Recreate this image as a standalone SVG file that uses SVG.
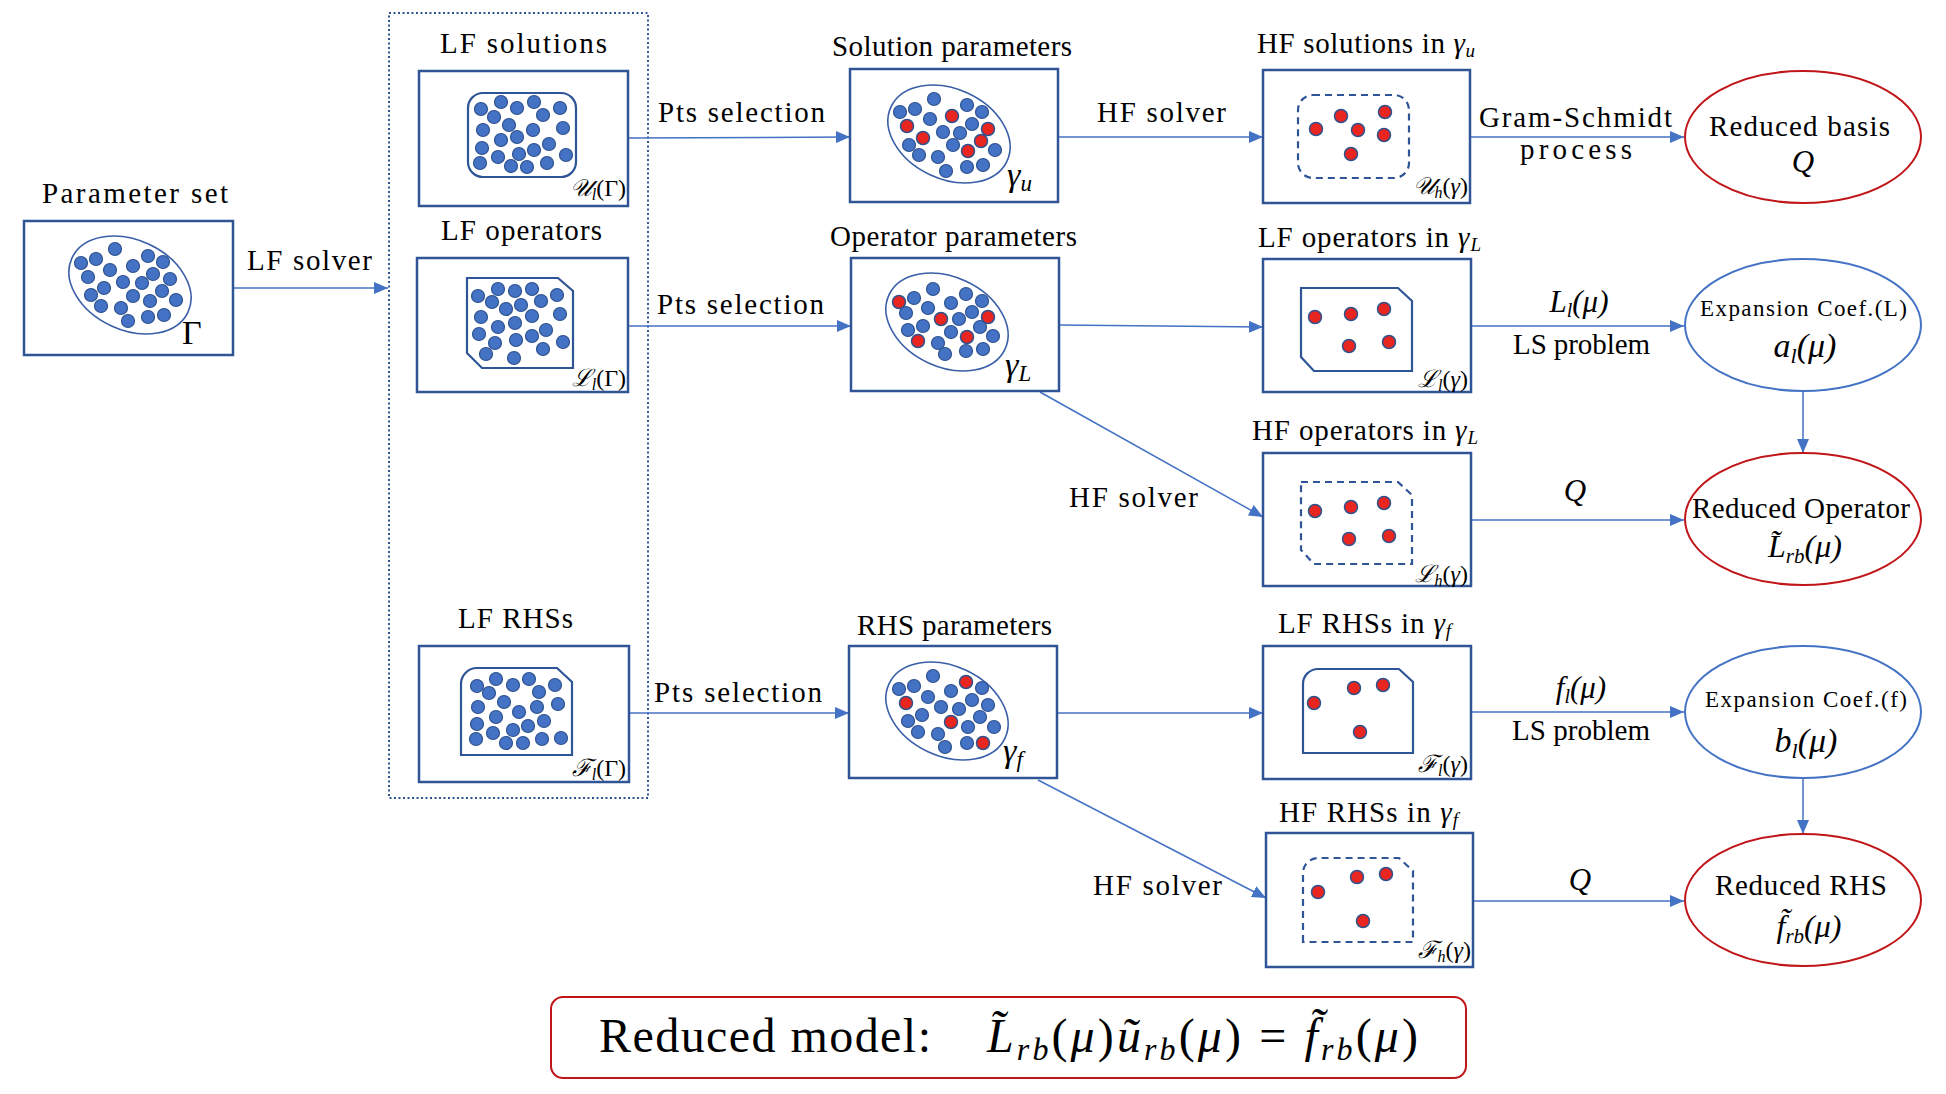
<svg xmlns="http://www.w3.org/2000/svg" xmlns:xlink="http://www.w3.org/1999/xlink" width="1946" height="1094" viewBox="0 0 1946 1094">
<style>
text{font-family:"Liberation Serif","DejaVu Serif",serif;fill:#000}
.lbl{font-size:29px}
.sm{font-size:23px}
.ml{font-size:24px}
.it{font-style:italic}
.box{fill:#fff;stroke:#2F5597;stroke-width:2.5}
.inner{fill:none;stroke:#2F5597;stroke-width:2.2}
.dash{stroke-dasharray:7 5}
.pell{fill:none;stroke:#3A5FA8;stroke-width:1.6}
.conn line{stroke:#4472C4;stroke-width:1.5;marker-end:url(#ah)}
.rell{fill:#fff;stroke:#C0161A;stroke-width:2}
.bell{fill:#fff;stroke:#4472C4;stroke-width:2}
.cont{fill:none;stroke:#2F5597;stroke-width:2;stroke-dasharray:2 2.5}
</style>
<defs>
<marker id="ah" markerWidth="14" markerHeight="12" refX="14" refY="6" orient="auto" markerUnits="userSpaceOnUse">
<path d="M0,0 L14,6 L0,12 Z" fill="#4472C4"/>
</marker>
<circle id="b" r="6.5" fill="#4472C4" stroke="#2F528F" stroke-width="1.2"/>
<circle id="r" r="6.5" fill="#E8251F" stroke="#2F528F" stroke-width="1.5"/>
</defs>
<rect width="1946" height="1094" fill="#fff"/>

<rect id="lf-container" class="cont" x="389" y="13" width="259" height="785"/>

<g id="conn" class="conn">
<line x1="233" y1="288" x2="388" y2="288"/>
<line x1="628" y1="138" x2="850" y2="137"/>
<line x1="628" y1="326" x2="851" y2="326"/>
<line x1="629" y1="713" x2="849" y2="713"/>
<line x1="1058" y1="137" x2="1263" y2="137"/>
<line x1="1059" y1="325" x2="1263" y2="327"/>
<line x1="1040" y1="392" x2="1263" y2="517"/>
<line x1="1057" y1="713" x2="1263" y2="713"/>
<line x1="1038" y1="780" x2="1266" y2="898"/>
<line x1="1470" y1="137" x2="1684" y2="137"/>
<line x1="1471" y1="326" x2="1684" y2="326"/>
<line x1="1471" y1="520" x2="1684" y2="520"/>
<line x1="1471" y1="712" x2="1684" y2="712"/>
<line x1="1473" y1="901" x2="1684" y2="901"/>
<line x1="1803" y1="391" x2="1803" y2="453"/>
<line x1="1803" y1="778" x2="1803" y2="834"/>
</g>

<g id="edge-labels">
<text class="lbl" x="247" y="270" textLength="125">LF solver</text>
<text class="lbl" x="658" y="122" textLength="167">Pts selection</text>
<text class="lbl" x="657" y="314" textLength="167">Pts selection</text>
<text class="lbl" x="654" y="702" textLength="168">Pts selection</text>
<text class="lbl" x="1097" y="122" textLength="129">HF solver</text>
<text class="lbl" x="1069" y="507" textLength="129">HF solver</text>
<text class="lbl" x="1093" y="895" textLength="129">HF solver</text>
<text class="lbl" x="1479" y="127" textLength="193">Gram-Schmidt</text>
<text class="lbl" x="1520" y="159" textLength="112">process</text>
<text class="it" x="1579" y="312" text-anchor="middle" font-size="31">L<tspan dy="5" font-size="20">l</tspan><tspan dy="-5">(μ)</tspan></text>
<text class="lbl" x="1513" y="354" textLength="137">LS problem</text>
<text class="it" x="1575" y="501" text-anchor="middle" font-size="31">Q</text>
<text class="it" x="1581" y="698" text-anchor="middle" font-size="31">f<tspan dy="5" font-size="20">l</tspan><tspan dy="-5">(μ)</tspan></text>
<text class="lbl" x="1512" y="740" textLength="138">LS problem</text>
<text class="it" x="1580" y="890" text-anchor="middle" font-size="31">Q</text>
</g>

<g id="param-set">
<text class="lbl" x="42" y="203" textLength="186">Parameter set</text>
<rect class="box" x="24" y="221" width="209" height="134"/>
<ellipse class="pell" cx="130" cy="285" rx="64" ry="45" transform="rotate(25 130 285)"/>
<use href="#b" x="115" y="249"/><use href="#b" x="81" y="263"/><use href="#b" x="96" y="259"/><use href="#b" x="148" y="256"/><use href="#b" x="163" y="262"/><use href="#b" x="133" y="266"/><use href="#b" x="110" y="270"/><use href="#b" x="88" y="277"/><use href="#b" x="153" y="274"/><use href="#b" x="170" y="279"/><use href="#b" x="123" y="282"/><use href="#b" x="142" y="283"/><use href="#b" x="104" y="288"/><use href="#b" x="162" y="291"/><use href="#b" x="91" y="295"/><use href="#b" x="133" y="296"/><use href="#b" x="150" y="301"/><use href="#b" x="176" y="300"/><use href="#b" x="101" y="306"/><use href="#b" x="121" y="308"/><use href="#b" x="128" y="321"/><use href="#b" x="148" y="317"/><use href="#b" x="164" y="315"/>
<text x="182" y="344" font-size="34">Γ</text>
</g>

<g id="lf-solutions">
<text class="lbl" x="440" y="53" textLength="167">LF solutions</text>
<rect class="box" x="419" y="71" width="209" height="135"/>
<rect class="inner" x="468" y="93" width="108" height="84" rx="15"/>
<use href="#b" x="481" y="109"/><use href="#b" x="501" y="102"/><use href="#b" x="494" y="117"/><use href="#b" x="517" y="108"/><use href="#b" x="534" y="102"/><use href="#b" x="543" y="115"/><use href="#b" x="560" y="108"/><use href="#b" x="483" y="130"/><use href="#b" x="509" y="125"/><use href="#b" x="533" y="130"/><use href="#b" x="563" y="128"/><use href="#b" x="501" y="140"/><use href="#b" x="517" y="137"/><use href="#b" x="482" y="148"/><use href="#b" x="498" y="157"/><use href="#b" x="519" y="154"/><use href="#b" x="534" y="150"/><use href="#b" x="549" y="144"/><use href="#b" x="566" y="155"/><use href="#b" x="480" y="163"/><use href="#b" x="511" y="166"/><use href="#b" x="527" y="167"/><use href="#b" x="547" y="163"/>
<text class="ml" x="626" y="196" text-anchor="end"><tspan class="it">𝒰</tspan><tspan class="it" dy="4" font-size="16">l</tspan><tspan dy="-4">(Γ)</tspan></text>
</g>

<g id="lf-operators">
<text class="lbl" x="441" y="240" textLength="161">LF operators</text>
<rect class="box" x="417" y="258" width="211" height="134"/>
<path class="inner" d="M467,278 L558,278 L573,291 L573,368 L482,368 L467,353 Z"/>
<use href="#b" x="478" y="296"/><use href="#b" x="498" y="289"/><use href="#b" x="515" y="291"/><use href="#b" x="532" y="289"/><use href="#b" x="557" y="295"/><use href="#b" x="492" y="302"/><use href="#b" x="521" y="305"/><use href="#b" x="541" y="301"/><use href="#b" x="506" y="309"/><use href="#b" x="481" y="317"/><use href="#b" x="532" y="316"/><use href="#b" x="560" y="314"/><use href="#b" x="515" y="323"/><use href="#b" x="498" y="327"/><use href="#b" x="479" y="334"/><use href="#b" x="546" y="330"/><use href="#b" x="532" y="336"/><use href="#b" x="516" y="340"/><use href="#b" x="495" y="343"/><use href="#b" x="563" y="342"/><use href="#b" x="486" y="354"/><use href="#b" x="543" y="349"/><use href="#b" x="514" y="358"/>
<text class="ml" x="626" y="386" text-anchor="end"><tspan class="it">ℒ</tspan><tspan class="it" dy="4" font-size="16">l</tspan><tspan dy="-4">(Γ)</tspan></text>
</g>

<g id="lf-rhss">
<text class="lbl" x="458" y="628" textLength="115">LF RHSs</text>
<rect class="box" x="419" y="646" width="210" height="136"/>
<path class="inner" d="M461,755 L461,684 A16,16 0 0 1 477,668 L557,668 L572,682 L572,755 Z"/>
<use href="#b" x="477" y="686"/><use href="#b" x="496" y="679"/><use href="#b" x="513" y="685"/><use href="#b" x="529" y="679"/><use href="#b" x="555" y="685"/><use href="#b" x="489" y="693"/><use href="#b" x="539" y="692"/><use href="#b" x="504" y="702"/><use href="#b" x="478" y="707"/><use href="#b" x="519" y="712"/><use href="#b" x="537" y="707"/><use href="#b" x="558" y="704"/><use href="#b" x="496" y="717"/><use href="#b" x="544" y="721"/><use href="#b" x="477" y="724"/><use href="#b" x="528" y="726"/><use href="#b" x="513" y="730"/><use href="#b" x="493" y="733"/><use href="#b" x="476" y="739"/><use href="#b" x="506" y="743"/><use href="#b" x="523" y="743"/><use href="#b" x="542" y="739"/><use href="#b" x="561" y="738"/>
<text class="ml" x="626" y="776" text-anchor="end"><tspan class="it">ℱ</tspan><tspan class="it" dy="4" font-size="16">l</tspan><tspan dy="-4">(Γ)</tspan></text>
</g>

<g id="solution-params">
<text class="lbl" x="832" y="56" textLength="240">Solution parameters</text>
<rect class="box" x="850" y="69" width="208" height="133"/>
<ellipse class="pell" cx="949" cy="134" rx="64" ry="45" transform="rotate(25 949 134)"/>
<use href="#b" x="934" y="99"/><use href="#b" x="900" y="112"/><use href="#b" x="915" y="109"/><use href="#b" x="967" y="105"/><use href="#b" x="982" y="112"/><use href="#b" x="930" y="119"/><use href="#b" x="972" y="124"/><use href="#b" x="943" y="132"/><use href="#b" x="960" y="133"/><use href="#b" x="909" y="145"/><use href="#b" x="953" y="145"/><use href="#b" x="919" y="155"/><use href="#b" x="938" y="157"/><use href="#b" x="995" y="150"/><use href="#b" x="946" y="171"/><use href="#b" x="967" y="167"/><use href="#b" x="983" y="165"/>
<use href="#r" x="952" y="116"/><use href="#r" x="907" y="126"/><use href="#r" x="923" y="138"/><use href="#r" x="988" y="129"/><use href="#r" x="981" y="141"/><use href="#r" x="968" y="151"/>
<text class="it" x="1007" y="186" font-size="34">γ<tspan dy="5" font-size="23">u</tspan></text>
</g>

<g id="operator-params">
<text class="lbl" x="830" y="246" textLength="247">Operator parameters</text>
<rect class="box" x="851" y="258" width="208" height="133"/>
<ellipse class="pell" cx="947" cy="322" rx="64" ry="45" transform="rotate(25 947 322)"/>
<use href="#b" x="933" y="289"/><use href="#b" x="914" y="298"/><use href="#b" x="966" y="294"/><use href="#b" x="982" y="301"/><use href="#b" x="951" y="303"/><use href="#b" x="906" y="313"/><use href="#b" x="928" y="308"/><use href="#b" x="972" y="312"/><use href="#b" x="959" y="319"/><use href="#b" x="923" y="326"/><use href="#b" x="908" y="330"/><use href="#b" x="951" y="332"/><use href="#b" x="980" y="327"/><use href="#b" x="993" y="336"/><use href="#b" x="938" y="343"/><use href="#b" x="945" y="354"/><use href="#b" x="966" y="351"/><use href="#b" x="983" y="349"/>
<use href="#r" x="899" y="302"/><use href="#r" x="941" y="319"/><use href="#r" x="988" y="317"/><use href="#r" x="918" y="341"/><use href="#r" x="967" y="337"/>
<text class="it" x="1005" y="376" font-size="34">γ<tspan dy="5" font-size="23">L</tspan></text>
</g>

<g id="rhs-params">
<text class="lbl" x="857" y="635" textLength="195">RHS parameters</text>
<rect class="box" x="849" y="646" width="208" height="132"/>
<ellipse class="pell" cx="947" cy="711" rx="64" ry="45" transform="rotate(25 947 711)"/>
<use href="#b" x="933" y="676"/><use href="#b" x="899" y="689"/><use href="#b" x="914" y="686"/><use href="#b" x="982" y="688"/><use href="#b" x="951" y="691"/><use href="#b" x="928" y="697"/><use href="#b" x="972" y="700"/><use href="#b" x="988" y="705"/><use href="#b" x="941" y="707"/><use href="#b" x="959" y="709"/><use href="#b" x="922" y="715"/><use href="#b" x="908" y="721"/><use href="#b" x="980" y="717"/><use href="#b" x="968" y="727"/><use href="#b" x="994" y="727"/><use href="#b" x="918" y="732"/><use href="#b" x="938" y="734"/><use href="#b" x="945" y="747"/><use href="#b" x="967" y="743"/>
<use href="#r" x="966" y="682"/><use href="#r" x="906" y="703"/><use href="#r" x="951" y="722"/><use href="#r" x="983" y="743"/>
<text class="it" x="1003" y="762" font-size="34">γ<tspan dy="5" font-size="23">f</tspan></text>
</g>

<g id="hf-solutions">
<text class="lbl" x="1257" y="53" textLength="218">HF solutions in <tspan class="it">γ</tspan><tspan class="it" dy="4" font-size="19">u</tspan></text>
<rect class="box" x="1263" y="70" width="207" height="133"/>
<rect class="inner dash" x="1298" y="95" width="111" height="83" rx="15"/>
<use href="#r" x="1316" y="129"/><use href="#r" x="1341" y="116"/><use href="#r" x="1358" y="130"/><use href="#r" x="1385" y="112"/><use href="#r" x="1384" y="135"/><use href="#r" x="1351" y="154"/>
<text class="ml" x="1468" y="194" text-anchor="end"><tspan class="it">𝒰</tspan><tspan class="it" dy="4" font-size="16">h</tspan><tspan dy="-4">(</tspan><tspan class="it">γ</tspan>)</text>
</g>

<g id="lf-ops-gamma">
<text class="lbl" x="1258" y="247" textLength="223">LF operators in <tspan class="it">γ</tspan><tspan class="it" dy="4" font-size="19">L</tspan></text>
<rect class="box" x="1263" y="259" width="208" height="133"/>
<path class="inner" d="M1301,288 L1398,288 L1412,301 L1412,371 L1314,371 L1301,357 Z"/>
<use href="#r" x="1315" y="317"/><use href="#r" x="1351" y="314"/><use href="#r" x="1384" y="309"/><use href="#r" x="1349" y="346"/><use href="#r" x="1389" y="342"/>
<text class="ml" x="1468" y="387" text-anchor="end"><tspan class="it">ℒ</tspan><tspan class="it" dy="4" font-size="16">l</tspan><tspan dy="-4">(</tspan><tspan class="it">γ</tspan>)</text>
</g>

<g id="hf-ops-gamma">
<text class="lbl" x="1252" y="440" textLength="226">HF operators in <tspan class="it">γ</tspan><tspan class="it" dy="4" font-size="19">L</tspan></text>
<rect class="box" x="1263" y="453" width="208" height="133"/>
<path class="inner dash" d="M1301,482 L1398,482 L1412,495 L1412,564 L1314,564 L1301,550 Z"/>
<use href="#r" x="1315" y="511"/><use href="#r" x="1351" y="507"/><use href="#r" x="1384" y="503"/><use href="#r" x="1349" y="539"/><use href="#r" x="1389" y="536"/>
<text class="ml" x="1468" y="582" text-anchor="end"><tspan class="it">ℒ</tspan><tspan class="it" dy="4" font-size="16">h</tspan><tspan dy="-4">(</tspan><tspan class="it">γ</tspan>)</text>
</g>

<g id="lf-rhs-gamma">
<text class="lbl" x="1278" y="633" textLength="173">LF RHSs in <tspan class="it">γ</tspan><tspan class="it" dy="4" font-size="19">f</tspan></text>
<rect class="box" x="1263" y="646" width="208" height="133"/>
<path class="inner" d="M1303,753 L1303,684 A15,15 0 0 1 1318,669 L1399,669 L1413,682 L1413,753 Z"/>
<use href="#r" x="1314" y="703"/><use href="#r" x="1354" y="688"/><use href="#r" x="1383" y="685"/><use href="#r" x="1360" y="732"/>
<text class="ml" x="1468" y="772" text-anchor="end"><tspan class="it">ℱ</tspan><tspan class="it" dy="4" font-size="16">l</tspan><tspan dy="-4">(</tspan><tspan class="it">γ</tspan>)</text>
</g>

<g id="hf-rhs-gamma">
<text class="lbl" x="1279" y="822" textLength="179">HF RHSs in <tspan class="it">γ</tspan><tspan class="it" dy="4" font-size="19">f</tspan></text>
<rect class="box" x="1266" y="833" width="207" height="134"/>
<path class="inner dash" d="M1303,942 L1303,873 A15,15 0 0 1 1318,858 L1399,858 L1413,871 L1413,942 Z"/>
<use href="#r" x="1318" y="892"/><use href="#r" x="1357" y="877"/><use href="#r" x="1386" y="874"/><use href="#r" x="1363" y="921"/>
<text class="ml" x="1471" y="958" text-anchor="end"><tspan class="it">ℱ</tspan><tspan class="it" dy="4" font-size="16">h</tspan><tspan dy="-4">(</tspan><tspan class="it">γ</tspan>)</text>
</g>

<g id="reduced-basis">
<ellipse class="rell" cx="1803" cy="137" rx="118" ry="66"/>
<text class="lbl" x="1709" y="136" textLength="181">Reduced basis</text>
<text class="it" x="1803" y="172" text-anchor="middle" font-size="31">Q</text>
</g>
<g id="expansion-L">
<ellipse class="bell" cx="1803" cy="325" rx="118" ry="66"/>
<text class="sm" x="1700" y="316" textLength="207">Expansion Coef.(L)</text>
<text class="it" x="1805" y="357" text-anchor="middle" font-size="34">a<tspan dy="6" font-size="22">l</tspan><tspan dy="-6">(μ)</tspan></text>
</g>
<g id="reduced-operator">
<ellipse class="rell" cx="1803" cy="519" rx="118" ry="66"/>
<text class="lbl" x="1692" y="518" textLength="218">Reduced Operator</text>
<text class="it" x="1805" y="557" text-anchor="middle" font-size="32">L&#x303;<tspan dy="6" font-size="21">rb</tspan><tspan dy="-6">(μ)</tspan></text>
</g>
<g id="expansion-f">
<ellipse class="bell" cx="1803" cy="712" rx="118" ry="66"/>
<text class="sm" x="1705" y="707" textLength="202">Expansion Coef.(f)</text>
<text class="it" x="1806" y="752" text-anchor="middle" font-size="34">b<tspan dy="6" font-size="22">l</tspan><tspan dy="-6">(μ)</tspan></text>
</g>
<g id="reduced-rhs">
<ellipse class="rell" cx="1803" cy="900" rx="118" ry="66"/>
<text class="lbl" x="1715" y="895" textLength="172">Reduced RHS</text>
<text class="it" x="1809" y="937" text-anchor="middle" font-size="32">f&#x303;<tspan dy="6" font-size="21">rb</tspan><tspan dy="-6">(μ)</tspan></text>
</g>

<g id="reduced-model">
<rect x="551" y="997" width="915" height="81" rx="12" fill="#fff" stroke="#C0161A" stroke-width="2"/>
<text x="599" y="1052" font-size="48" textLength="332">Reduced model:</text>
<text x="987" y="1052" font-size="48" textLength="431"><tspan class="it">L&#x303;</tspan><tspan class="it" dy="8" font-size="32">rb</tspan><tspan dy="-8">(</tspan><tspan class="it">μ</tspan>)<tspan class="it">u&#x303;</tspan><tspan class="it" dy="8" font-size="32">rb</tspan><tspan dy="-8">(</tspan><tspan class="it">μ</tspan>) = <tspan class="it">f&#x303;</tspan><tspan class="it" dy="8" font-size="32">rb</tspan><tspan dy="-8">(</tspan><tspan class="it">μ</tspan>)</text>
</g>
</svg>
